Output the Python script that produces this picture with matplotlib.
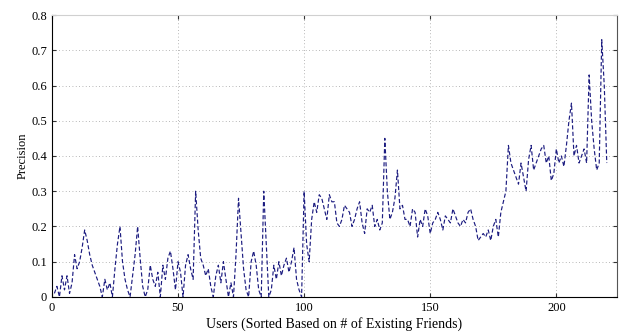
import matplotlib
matplotlib.use("Agg")
import matplotlib.pyplot as plt
import numpy as np

precision = [
    0.01, 0.03, 0.00, 0.06, 0.02, 0.06, 0.01, 0.04, 0.12, 0.08,
    0.10, 0.14, 0.19, 0.16, 0.12, 0.09, 0.07, 0.05, 0.03, 0.00,
    0.05, 0.02, 0.04, 0.00, 0.08, 0.15, 0.20, 0.10, 0.05, 0.02,
    0.00, 0.06, 0.12, 0.20, 0.11, 0.03, 0.00, 0.02, 0.09, 0.05,
    0.03, 0.07, 0.00, 0.09, 0.05, 0.11, 0.13, 0.08, 0.02, 0.10,
    0.07, 0.00, 0.09, 0.12, 0.08, 0.05, 0.30, 0.19, 0.11, 0.09,
    0.06, 0.08, 0.03, 0.00, 0.06, 0.09, 0.04, 0.10, 0.05, 0.00,
    0.04, 0.00, 0.12, 0.28, 0.18, 0.08, 0.02, 0.00, 0.10, 0.13,
    0.09, 0.02, 0.00, 0.30, 0.15, 0.00, 0.02, 0.09, 0.05, 0.10,
    0.06, 0.09, 0.11, 0.07, 0.10, 0.14, 0.05, 0.02, 0.00, 0.30,
    0.15, 0.10, 0.22, 0.27, 0.24, 0.29, 0.28, 0.25, 0.22, 0.29,
    0.27, 0.27, 0.21, 0.20, 0.22, 0.26, 0.25, 0.24, 0.20, 0.22,
    0.25, 0.27, 0.21, 0.18, 0.25, 0.24, 0.26, 0.20, 0.22, 0.19,
    0.21, 0.45, 0.30, 0.22, 0.24, 0.28, 0.36, 0.25, 0.26, 0.22,
    0.22, 0.20, 0.25, 0.24, 0.17, 0.22, 0.20, 0.25, 0.23, 0.18,
    0.21, 0.22, 0.24, 0.22, 0.19, 0.23, 0.22, 0.21, 0.25, 0.23,
    0.21, 0.20, 0.22, 0.21, 0.24, 0.25, 0.22, 0.20, 0.16, 0.17,
    0.18, 0.17, 0.19, 0.16, 0.20, 0.22, 0.17, 0.24, 0.27, 0.30,
    0.43, 0.38, 0.36, 0.34, 0.32, 0.38, 0.34, 0.30, 0.39, 0.43,
    0.36, 0.38, 0.40, 0.42, 0.43, 0.38, 0.40, 0.33, 0.35, 0.42,
    0.38, 0.40, 0.37, 0.43, 0.50, 0.55, 0.40, 0.43, 0.38, 0.40,
    0.42, 0.38, 0.63, 0.50, 0.42, 0.36, 0.38, 0.73, 0.60, 0.38,
]
users = np.arange(1, len(precision) + 1)

x_ticks = [0, 50, 100, 150, 200]
y_ticks = [0, 0.1, 0.2, 0.3, 0.4, 0.5, 0.6, 0.7, 0.8]
y_tick_labels = ["0", "0.1", "0.2", "0.3", "0.4", "0.5", "0.6", "0.7", "0.8"]

plt.rcParams["font.family"] = ["Liberation Serif", "DejaVu Serif"]

fig = plt.figure(figsize=(6.25, 3.34), dpi=100)
ax = fig.add_axes([0.083, 0.111, 0.904, 0.844])
ax.plot(users, precision, linestyle=(0, (3.5, 2)), color="#1c1c80", linewidth=0.85)

ax.set_xlim(0, 224)
ax.set_ylim(0, 0.8)
ax.set_xticks(x_ticks)
ax.set_yticks(y_ticks)
ax.set_yticklabels(y_tick_labels)
ax.grid(True, linestyle=(0, (1, 3)), color="#a0a0a0", linewidth=0.6)
ax.tick_params(direction="in", labelsize=9, length=3, top=True, right=True, color="#333333")
for s in ax.spines.values():
    s.set_linewidth(0.8)
ax.spines["top"].set_color("#d0d0d0")
ax.spines["right"].set_color("#555555")
ax.set_xlabel("Users (Sorted Based on # of Existing Friends)", fontsize=10, labelpad=2)
ax.set_ylabel("Precision", fontsize=9, labelpad=2)

fig.savefig("out.png", dpi=100)
